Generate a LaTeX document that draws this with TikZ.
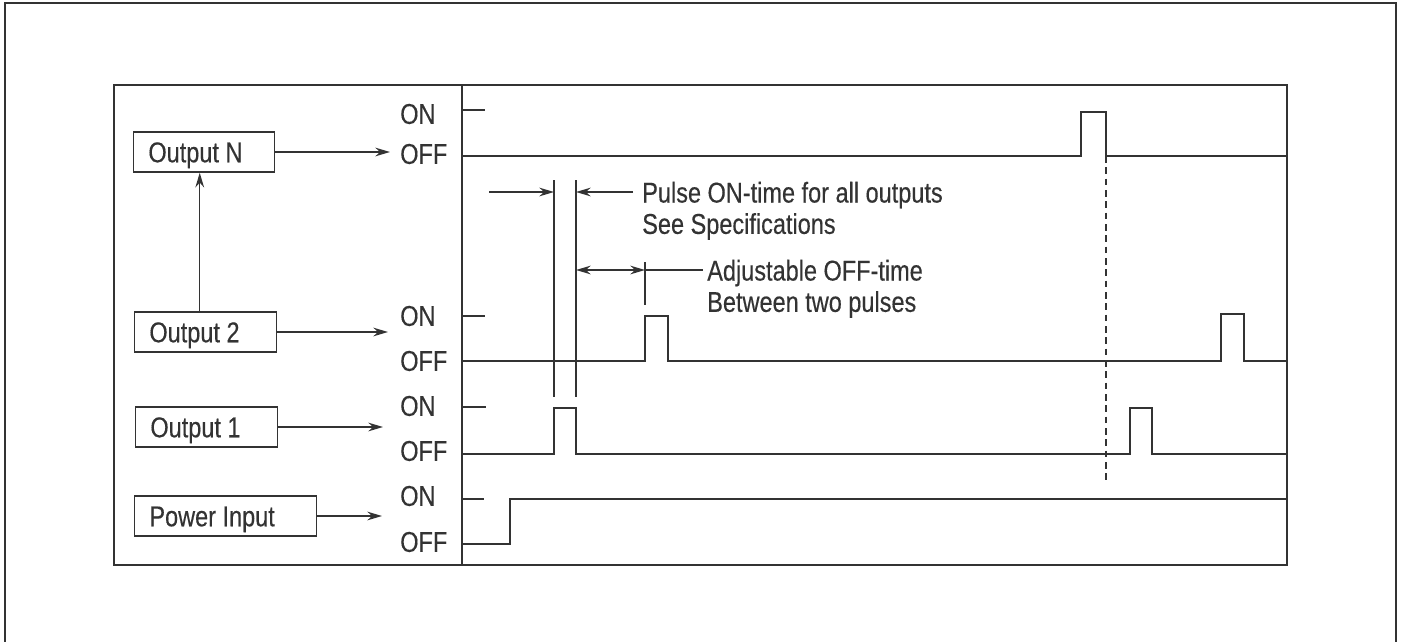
\documentclass[tikz,border=0pt]{standalone}
\usepackage{fontspec}
\setmainfont{Liberation Sans}[FakeStretch=0.82,FakeBold=0.35]
\usetikzlibrary{arrows.meta}
\definecolor{ink}{HTML}{333333}
\newcommand\dgmfont{\fontsize{21.5}{23.5}\selectfont}
\newcommand\tightsp{\spaceskip=0pt\relax}
\begin{document}
\begin{tikzpicture}[x=0.75pt,y=-0.75pt,
  every node/.style={font=\dgmfont, text=ink},
  frame/.style={draw=ink, line width=1.2pt},
  sig/.style={draw=ink, line width=1.1pt, line join=miter},
  thin/.style={draw=ink, line width=1.1pt},
  arr/.style={draw=ink, line width=1.1pt, -{Stealth[length=11pt,width=6.5pt]}},
  darr/.style={draw=ink, line width=1.1pt, {Stealth[length=11pt,width=6.5pt]}-{Stealth[length=11pt,width=6.5pt]}},
  lbl/.style={anchor=west, inner sep=0pt},
  note/.style={anchor=north west, inner sep=0pt, align=left},
  blk/.style={draw=ink, line width=1.1pt, anchor=west, minimum height=30pt,
    inner xsep=11pt, align=left, text height=15.4pt, text depth=0pt},
]
\useasboundingbox (0,0) rectangle (1403,642);
% frames
\draw[frame] (5,642) -- (5,3) -- (1396,3) -- (1396,642);
\draw[frame] (114,85) rectangle (1287,565);
\draw[frame] (462,85) -- (462,565);

% blocks
\node[blk, text width=83.75pt] (outN) at (133,152) {\tightsp Output N};
\node[blk, text width=84.5pt] (out2) at (134,332) {\tightsp Output 2};
\node[blk, text width=84.5pt] (out1) at (135,427) {\tightsp Output 1};
\node[blk, text width=114.5pt] (pwr) at (134,516) {\tightsp Power Input};

% ON / OFF labels
\node[lbl] (onN) at (400,114) {ON};
\node[lbl] (offN) at (400,154) {OFF};
\node[lbl] (on2) at (400,316) {ON};
\node[lbl] (off2) at (400,361) {OFF};
\node[lbl] (on1) at (400,406) {ON};
\node[lbl] (off1) at (400,451) {OFF};
\node[lbl] (onP) at (400,496) {ON};
\node[lbl] (offP) at (400,542) {OFF};

% arrows from blocks
\coordinate (aN) at (390,152);
\coordinate (a2) at (388,332);
\coordinate (a1) at (383,427);
\coordinate (aP) at (382,516);
\draw[arr] (outN.east) -- (aN);
\draw[arr] (out2.east) -- (a2);
\draw[arr] (out1.east) -- (a1);
\draw[arr] (pwr.east) -- (aP);
\draw[arr] ([xshift=-4.5pt]out2.north) -- ([xshift=-4.5pt]out2.north |- outN.south);

% ON ticks
\draw[sig] (462,110) -- (485,110);
\draw[sig] (462,316) -- (485,316);
\draw[sig] (462,407) -- (486,407);
\draw[sig] (462,499) -- (484,499);

% waveforms
\draw[sig] (462,156) -- (1081,156) -- (1081,112) -- (1106,112) -- (1106,156) -- (1287,156);
\draw[sig] (462,361) -- (645,361) -- (645,316) -- (668,316) -- (668,361) -- (1221,361) -- (1221,314) -- (1244,314) -- (1244,361) -- (1287,361);
\draw[sig] (462,454) -- (554,454) -- (554,408) -- (576,408) -- (576,454) -- (1130,454) -- (1130,408) -- (1152,408) -- (1152,454) -- (1287,454);
\draw[sig] (462,544) -- (510,544) -- (510,499) -- (1287,499);

% dashed marker
\draw[draw=ink, line width=0.9pt, dash pattern=on 5pt off 3.5pt] (1106,156) -- (1106,480);

% pulse ON-time annotation
\coordinate (e1t) at (554,180);
\coordinate (e1b) at (554,397);
\coordinate (e2t) at (576,180);
\coordinate (e2b) at (576,397);
\draw[thin] (e1t) -- (e1b);
\draw[thin] (e2t) -- (e2b);
\coordinate (p0) at (489,192);
\coordinate (p1) at (633,192);
\draw[arr] (p0) -- (e1t |- p0);
\draw[arr] (p1) -- (e2t |- p1);
\node[note] (pulse) at (642,181.5) {Pulse ON-time for all outputs\\See Specifications};

% OFF-time annotation
\coordinate (q0) at (576,270);
\coordinate (tk) at (645,270);
\coordinate (tkt) at (645,262);
\coordinate (tkb) at (645,305);
\coordinate (q1) at (703,270);
\draw[darr] (q0) -- (tk);
\draw[thin] (tkt) -- (tkb);
\draw[thin] (tk) -- (q1);
\node[note] (offt) at (707,259.5) {Adjustable OFF-time\\Between two pulses};
\end{tikzpicture}
\end{document}
